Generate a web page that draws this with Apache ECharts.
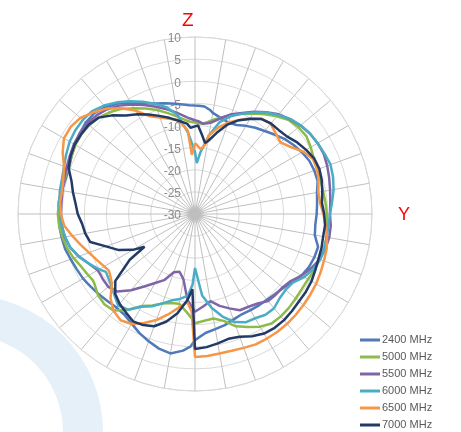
<!DOCTYPE html>
<html>
<head>
<meta charset="utf-8">
<script src="https://cdn.jsdelivr.net/npm/echarts@6/dist/echarts.min.js"></script>
<style>
  html, body { margin: 0; padding: 0; background: #fff; }
  #chart { width: 461px; height: 432px; }
</style>
</head>
<body>
<div id="chart"></div>
<script>
// angle in degrees, clockwise from Z (top)
var angles = [0,2,5,8,10,15,20,25,30,35,40,45,50,55,60,65,70,75,80,85,
  90,95,100,105,110,115,120,125,130,135,140,145,150,155,160,165,170,175,
  180,182,185,190,195,200,205,210,215,220,225,230,235,237,240,245,250,255,260,265,
  270,275,280,285,290,295,300,305,310,315,320,325,330,335,340,345,350,355,357];

var radiusTicks = [-30, 10, 5]; // min, max, step (dB)

var names = ['2400 MHz', '5000 MHz', '5500 MHz', '6000 MHz', '6500 MHz', '7000 MHz'];
var colors = ['#4f79b8', '#8cbb4a', '#7f64a8', '#4bacc6', '#f79646', '#233a66'];

var db2400 = [-5.5,-5.5,-5.6,-6.2,-6.8,-7.5,-8.0,-7.8,-7.0,-6.2,-5.5,-4.6,-3.6,-2.8,-2.1,-1.5,-1.3,-1.3,-2.0,-2.3,
  -2.5,-2.7,-2.5,-1.2,-1.3,-1.6,-2.2,-3.2,-4.0,-4.4,-4.7,-4.8,-4.9,-5.0,-4.6,-4.0,-3.6,-3.0,
  -1.5,0.0,1.0,2.0,1.5,0.6,-0.3,-1.4,-2.2,-2.4,-2.1,-1.7,-1.3,-1.1,-0.8,-0.5,-0.1,0.4,0.6,0.8,
  0.8,0.9,0.6,0.3,0.3,0.8,1.3,1.8,2.2,2.2,1.5,0.5,-1.0,-2.4,-3.4,-4.1,-4.7,-5.2,-5.4];

var db5000 = [-9.3,-9.5,-9.5,-9.0,-8.5,-7.5,-6.2,-5.0,-3.8,-2.5,-1.2,0.0,0.5,0.7,0.2,-0.4,-0.6,-0.6,-0.6,-0.4,
  -0.2,0.0,0.2,0.2,0.0,-0.2,-0.5,-0.5,-0.3,0.0,0.2,0.2,-0.6,-1.8,-3.0,-5.0,-6.0,-5.8,
  -5.3,-6.5,-7.8,-9.4,-9.2,-8.5,-7.2,-6.0,-3.5,-1.5,-1.1,-1.4,-2.3,-2.5,-2.2,-1.7,-0.8,-0.1,0.4,0.8,
  1.0,0.9,0.7,0.5,0.5,0.8,1.2,1.4,1.2,0.8,0.0,-1.0,-2.4,-3.7,-5.0,-6.4,-7.7,-8.8,-9.1];

var db5500 = [-8.8,-9.0,-9.5,-9.3,-9.0,-7.6,-6.0,-4.8,-3.3,-1.9,-0.6,0.3,1.1,1.7,2.0,2.1,1.8,1.4,1.0,0.7,
  0.5,0.8,0.8,0.5,0.0,-1.0,-2.2,-3.6,-4.2,-4.2,-4.3,-5.3,-5.8,-6.0,-7.3,-8.5,-10.0,-9.0,
  -7.9,-9.0,-10.5,-15.0,-16.5,-16.0,-13.5,-12.0,-10.0,-7.5,-5.2,-4.4,-4.5,-4.6,-4.6,-3.5,-2.0,-0.8,-0.1,0.2,
  0.3,0.3,0.4,0.6,0.9,1.2,1.6,1.8,1.8,1.5,0.9,-0.1,-1.4,-2.8,-4.2,-5.5,-6.8,-8.0,-8.4];

var db6000 = [-16.0,-18.5,-16.0,-14.0,-12.0,-8.5,-6.5,-5.0,-3.5,-2.0,-0.8,0.4,1.2,1.7,2.0,2.3,2.6,2.3,1.8,1.1,
  0.5,0.3,0.2,0.3,0.1,-0.5,-1.5,-3.0,-3.3,-3.0,-2.2,-2.2,-2.8,-3.0,-4.0,-6.0,-8.5,-11.5,
  -17.8,-14.0,-11.5,-10.5,-9.8,-8.5,-7.0,-5.8,-3.6,-3.0,-4.2,-5.2,-5.8,-6.0,-5.0,-3.5,-2.0,-0.8,-0.2,0.3,
  0.5,0.8,1.0,1.1,1.5,2.1,2.7,3.0,3.1,2.9,2.0,0.8,-0.6,-2.0,-3.5,-5.0,-7.3,-11.5,-13.5];

var db6500 = [-14.0,-14.5,-15.3,-14.3,-12.0,-9.8,-8.0,-6.6,-5.0,-3.7,-3.4,-4.2,-4.8,-3.6,-1.8,-0.6,-0.6,-1.1,-1.7,-1.6,
  -1.0,-0.3,0.3,0.8,1.0,1.3,1.6,1.8,2.0,2.2,2.4,2.5,2.5,2.5,2.2,2.0,2.0,2.2,
  2.3,-8.0,-10.0,-8.5,-6.5,-4.5,-2.8,-1.3,-0.7,-1.4,-3.0,-5.5,-6.5,-6.7,-6.3,-5.5,-4.5,-3.2,-1.8,-0.3,
  0.3,0.6,0.5,0.8,1.5,3.0,4.2,4.3,3.8,2.5,1.1,-0.8,-3.0,-5.6,-6.8,-7.7,-8.5,-11.0,-16.6];

var db7000 = [-10.2,-10.0,-12.0,-13.8,-13.3,-11.0,-8.5,-6.6,-5.2,-3.8,-3.3,-3.2,-2.8,-1.8,-1.0,-0.3,-0.1,-0.35,-0.8,-1.2,
  -0.8,-0.5,-0.6,-0.4,-0.3,0.0,0.4,0.6,0.7,1.0,1.3,1.4,1.2,0.5,-0.5,-0.8,-0.3,0.2,
  0.5,-13.0,-10.5,-7.2,-4.8,-3.0,-2.3,-2.0,-2.8,-3.5,-4.5,-6.5,-12.0,-16.4,-13.8,-10.8,-8.6,-5.5,-4.8,-4.4,
  -3.5,-2.9,-2.0,-1.1,0.4,1.0,1.4,1.4,1.35,0.8,-0.9,-2.8,-4.0,-5.2,-6.4,-7.5,-8.6,-9.5,-10.5];

var seriesValues = [db2400, db5000, db5500, db6000, db6500, db7000];

function toPolar(values) {
  var pts = values.map(function (v, i) { return [v, angles[i]]; });
  pts.push([values[0], 360]);
  return pts;
}

var chart = echarts.init(document.getElementById('chart'));

var series = names.map(function (n, i) {
  return {
    name: n,
    type: 'line',
    coordinateSystem: 'polar',
    showSymbol: false,
    smooth: false,
    lineStyle: { width: 2.5, color: colors[i] },
    itemStyle: { color: colors[i] },
    data: toPolar(seriesValues[i])
  };
});

chart.setOption({
  animation: false,
  textStyle: { fontFamily: 'Liberation Sans, Arial, sans-serif' },
  polar: { center: [195, 214], radius: 177 },
  angleAxis: {
    type: 'value', min: 0, max: 360, interval: 10,
    startAngle: 90, clockwise: true,
    axisLabel: { show: false },
    axisTick: { show: false },
    axisLine: { lineStyle: { color: '#d9d9d9', width: 1 } },
    splitLine: { lineStyle: { color: '#bfbfbf', width: 1 } }
  },
  radiusAxis: {
    type: 'value', min: radiusTicks[0], max: radiusTicks[1], interval: radiusTicks[2],
    axisLine: { show: false },
    axisTick: { show: false },
    axisLabel: { color: '#8c8c8c', fontSize: 12, margin: 14, align: 'right', verticalAlign: 'top', padding: [-4, 0, 0, 0] },
    splitLine: { lineStyle: { color: '#d9d9d9', width: 1 } }
  },
  legend: {
    orient: 'vertical', left: 360, top: 334, padding: 0,
    itemWidth: 20, itemHeight: 3, itemGap: 5,
    icon: 'rect',
    textStyle: { color: '#595959', fontSize: 11, lineHeight: 12, padding: [0, 0, 0, -3] },
    data: names
  },
  graphic: [
    { type: 'ring', z: -10, silent: true, shape: { cx: -34, cy: 432, r: 137, r0: 97 }, style: { fill: '#e6f0f8' } },
    { type: 'circle', silent: true, shape: { cx: 195, cy: 214, r: 10 },
      style: { fill: { type: 'radial', x: 0.5, y: 0.5, r: 0.5,
        colorStops: [{ offset: 0, color: 'rgba(140,140,140,0.9)' }, { offset: 0.6, color: 'rgba(160,160,160,0.6)' }, { offset: 1, color: 'rgba(190,190,190,0)' }] } } },
    { type: 'text', left: 182, top: 11, style: { text: 'Z', fill: '#ff0000', fontSize: 19, fontFamily: 'Liberation Sans' } },
    { type: 'text', left: 398, top: 206, style: { text: 'Y', fill: '#ff0000', fontSize: 18, fontFamily: 'Liberation Sans' } }
  ],
  series: series
});
</script>
</body>
</html>
